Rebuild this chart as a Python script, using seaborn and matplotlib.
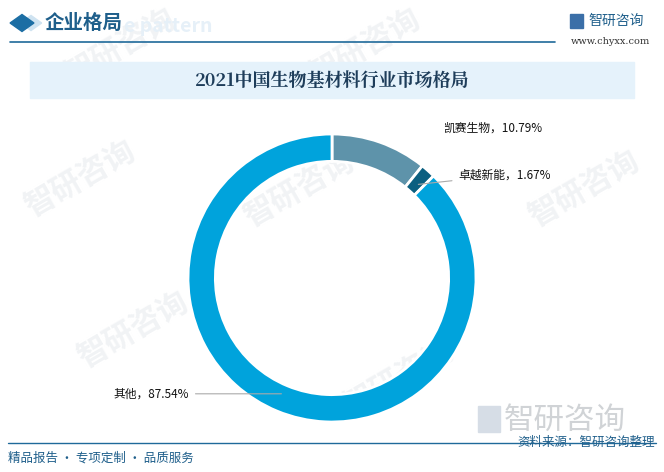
import matplotlib
matplotlib.use("Agg")
import matplotlib.pyplot as plt
import matplotlib.patches as mpatches
import numpy as np
import seaborn as sns

# data
companies = ["凯赛生物", "卓越新能", "其他"]
shares = [10.79, 1.67, 87.54]
slice_colors = ["#5e93aa", "#0b5f80", "#00a3dc"]

title = "2021中国生物基材料行业市场格局"
header = "企业格局"
source = "资料来源：智研咨询整理"
footer = "精品报告 · 专项定制 · 品质服务"

sns.set_theme(style="white")
plt.rcParams['font.family'] = ['Noto Sans CJK SC', 'DejaVu Sans']

fig = plt.figure(figsize=(6.64, 4.72), dpi=100)
fig.patch.set_facecolor("white")

# faint watermarks
for (wx, wy) in [(0.12, 0.62), (0.55, 0.9), (0.2, 0.3), (0.6, 0.2), (0.88, 0.6), (0.45, 0.6), (0.18, 0.9)]:
    fig.text(wx, wy, "智研咨询", fontsize=22, color="#f1f3f5", rotation=30,
             ha="center", va="center", fontweight="bold", zorder=-2)

# header
fig.patches.append(mpatches.RegularPolygon((31 / 664, 1 - 23 / 472), 4, radius=0.016,
                                           transform=fig.transFigure, color="#cfe3f1", zorder=-1))
fig.patches.append(mpatches.RegularPolygon((22 / 664, 1 - 23 / 472), 4, radius=0.018,
                                           transform=fig.transFigure, color="#1c6ea4"))
fig.text(124 / 664, 1 - 27 / 472, "e pattern", fontsize=14, color="#e6f0f8",
         fontweight="bold", va="center", zorder=-1)
fig.text(45 / 664, 1 - 23 / 472, header, fontsize=14, color="#1f5f8b", va="center",
         fontweight="bold")
fig.add_artist(plt.Line2D([10 / 664, 555 / 664], [1 - 42 / 472, 1 - 42 / 472],
                          color="#1f6a9a", lw=1.2))
fig.text(588 / 664, 1 - 21 / 472, "智研咨询", fontsize=10, color="#1f5f8b", va="center")
fig.patches.append(mpatches.Rectangle((570 / 664, 1 - 28 / 472), 13 / 664, 14 / 472,
                                      transform=fig.transFigure, color="#3b6fa8"))
fig.text(610 / 664, 1 - 41 / 472, "www.chyxx.com", fontsize=7, color="#333333",
         va="center", ha="center", family="DejaVu Serif")

# title box
fig.patches.append(mpatches.Rectangle((30 / 664, 1 - 98 / 472), 604 / 664, 36 / 472,
                                      transform=fig.transFigure, color="#e5f2fb", zorder=1))
fig.text(0.5, 1 - 81 / 472, title, fontsize=13, color="#1e3d5a", ha="center",
         va="center", fontweight="bold", zorder=2,
         family=['Noto Serif CJK SC', 'Noto Sans CJK SC', 'DejaVu Serif'])

# donut
ax = fig.add_axes([(332 - 144) / 664, (472 - 278 - 144) / 472, 288 / 664, 288 / 472])
ax.set_facecolor("none")
wedges, _ = ax.pie(shares, colors=slice_colors, startangle=90, counterclock=False,
                   radius=1.0, wedgeprops=dict(width=0.19, edgecolor="white", linewidth=2))
ax.set_xlim(-1, 1)
ax.set_ylim(-1, 1)
ax.set_aspect("equal")
ax.axis("off")

label_fs = 8.5
# 凯赛生物
ax.text(0.77, 1.04, f"{companies[0]}，{shares[0]:.2f}%", fontsize=label_fs,
        ha="left", va="center", color="#111111", clip_on=False)

# 卓越新能 with leader
w = wedges[1]
ang = np.deg2rad((w.theta1 + w.theta2) / 2)
ax.annotate(f"{companies[1]}，{shares[1]:.2f}%", xy=(0.87 * np.cos(ang), 0.87 * np.sin(ang)),
            xytext=(0.875, 0.715), fontsize=label_fs, ha="left", va="center", color="#111111",
            arrowprops=dict(arrowstyle="-", color="#aaaaaa", lw=0.8), annotation_clip=False)

# 其他 with leader
w = wedges[2]
ang = np.deg2rad((w.theta1 + w.theta2) / 2)
ax.annotate(f"{companies[2]}，{shares[2]:.2f}%", xy=(0.87 * np.cos(ang), 0.87 * np.sin(ang)),
            xytext=(-0.99, 0.87 * np.sin(ang)), fontsize=label_fs, ha="right", va="center",
            color="#111111",
            arrowprops=dict(arrowstyle="-", color="#aaaaaa", lw=0.8), annotation_clip=False)

# bottom watermark logo
fig.text(565 / 664, 1 - 420 / 472, "智研咨询", fontsize=22, color="#d0d3d6", ha="center",
         va="center", zorder=-1)
fig.patches.append(mpatches.Rectangle((478 / 664, 1 - 432 / 472), 22 / 664, 26 / 472,
                                      transform=fig.transFigure, color="#d6dde6", zorder=-1))

# footer
fig.add_artist(plt.Line2D([8 / 664, 656 / 664], [1 - 443 / 472, 1 - 443 / 472],
                          color="#1f6a9a", lw=1.0))
fig.text(655 / 664, 1 - 442 / 472, source, fontsize=9, color="#1f5f8b", ha="right",
         va="center")
fig.text(8 / 664, 1 - 458 / 472, footer, fontsize=9, color="#1f5f8b", ha="left", va="center")

fig.savefig("out.png", dpi=100)
